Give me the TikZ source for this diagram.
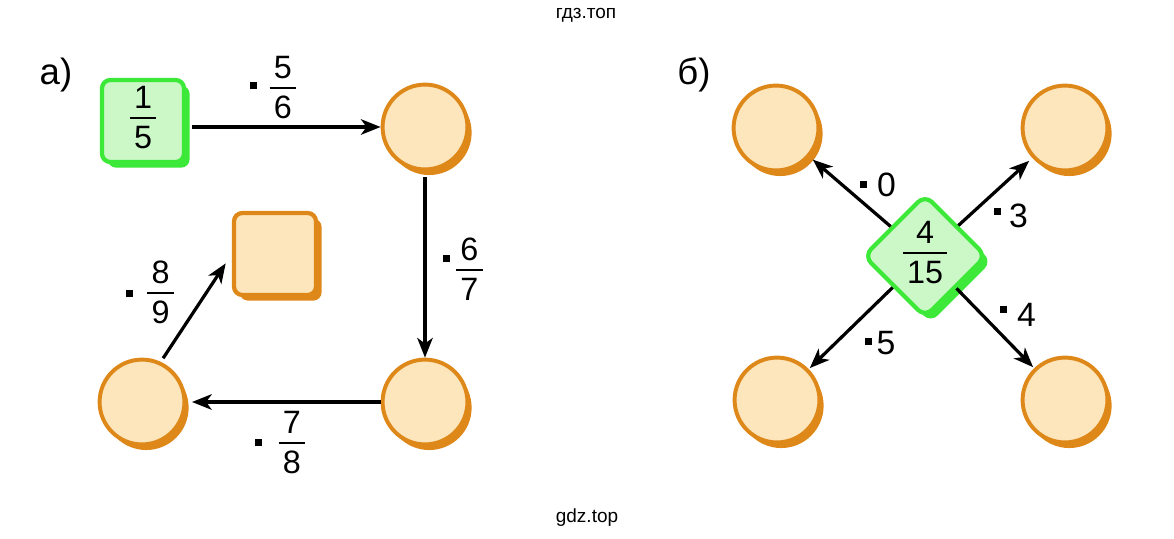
\documentclass[tikz,border=0pt]{standalone}
\usepackage{fontspec}
\setmainfont{Liberation Sans}
\usetikzlibrary{arrows.meta,shapes.geometric,shadows}
\definecolor{peach}{RGB}{253,230,187}
\definecolor{rim}{RGB}{222,136,26}
\definecolor{mint}{RGB}{204,248,200}
\definecolor{lime}{RGB}{60,232,56}
\setlength{\arrayrulewidth}{1.4pt}
\newcommand{\fr}[2]{\begin{tabular}{@{\hspace{3pt}}c@{\hspace{3pt}}}#1\\[-2pt]\hline\rule{0pt}{21pt}#2\end{tabular}}
\newcommand{\dt}[1]{\raisebox{#1}{\rule{5pt}{5pt}}}
\tikzset{
every picture/.style={line width=2.3pt}
}
\tikzset{
  ring/.style={circle, draw=rim, fill=peach, line width=2.8pt, minimum size=2.12cm,
    drop shadow={shadow xshift=3pt, shadow yshift=-4pt, fill=rim, opacity=1}},
  tile/.style={rectangle, rounded corners=6pt, line width=3pt, minimum size=2.05cm, inner sep=0pt},
  greenbox/.style={tile, draw=lime, fill=mint,
    drop shadow={shadow xshift=4pt, shadow yshift=-4pt, fill=lime, opacity=1}},
  orangebox/.style={tile, draw=rim, fill=peach,
    drop shadow={shadow xshift=4pt, shadow yshift=-4pt, fill=rim, opacity=1}},
  gem/.style={diamond, aspect=1, rounded corners=7pt, draw=lime, fill=mint, line width=3pt,
    minimum size=3.0cm, inner sep=0pt,
    drop shadow={shadow xshift=4pt, shadow yshift=-4pt, fill=lime, opacity=1}},
  link/.style={-{Stealth[length=14pt,width=11pt,inset=4pt]}, black},
  num/.style={font=\fontsize{23}{27.6}\selectfont, inner sep=0pt},
  factor/.style={font=\fontsize{24}{28}\selectfont, inner sep=0pt},
  partlabel/.style={font=\fontsize{26}{30}\selectfont, inner sep=0pt},
  stamp/.style={font=\fontsize{13.5}{16}\selectfont, inner sep=0pt}
}
\begin{document}
\begin{tikzpicture}[x=0.025cm, y=-0.025cm]
  \useasboundingbox (0,0) rectangle (1174,538);
  \node[stamp] (wmtop) at (586,15) {гдз.топ};
  \node[stamp] (wmbot) at (587,518) {gdz.top};

  % a)
  \node[partlabel] (parta) at (56,75) {а)};
  \node[greenbox, num] (sq1) at (143,121) {\fr{1}{5}};
  \node[ring] (c1) at (425,127) {};
  \node[ring] (c2) at (425,402) {};
  \node[ring] (c3) at (142,402) {};
  \node[orangebox] (sq2) at (275,254) {};

  \draw[link, shorten <=4pt] (sq1.east |- c1.west) -- (c1.west);
  \draw[link, shorten <=4pt] (c1.south) -- (c2.north);
  \draw[link, shorten >=4pt] (c2.west) -- (c3.east);
  \draw[link, shorten <=3pt, shorten >=8pt] (c3.65) -- (sq2.west);

  \node[num] (ka) at (273,91) {\dt{7.3pt}\hspace{9pt}\fr{5}{6}};
  \node[num] (kb) at (463,273) {\dt{13.7pt}\hspace{4pt}\fr{6}{7}};
  \node[num] (kc) at (280,446) {\dt{6pt}\hspace{12pt}\fr{7}{8}};
  \node[num] (kd) at (150,296) {\dt{5.2pt}\hspace{10pt}\fr{8}{9}};

  % b)
  \node[partlabel] (partb) at (694,75) {б)};
  \node[gem, num] (d) at (925,256) {\fr{4}{15}};
  \node[ring] (tl) at (776,128) {};
  \node[ring] (tr) at (1065,128) {};
  \node[ring] (bl) at (777,400) {};
  \node[ring] (br) at (1065,400) {};

  \draw[link, shorten >=3pt] (d) -- (tl);
  \draw[link, shorten >=3pt] (d) -- (tr);
  \draw[link, shorten >=1pt] (d) -- (bl);
  \draw[link, shorten >=1pt] (d) -- (br);

  \node[factor] (m0) at (878,185) {\dt{6pt}\hspace{7pt}0};
  \node[factor] (m3) at (1011,216) {\dt{9.3pt}\hspace{5.5pt}3};
  \node[factor] (m4) at (1018,315) {\dt{10pt}\hspace{7pt}4};
  \node[factor] (m5) at (880,343) {\dt{6.6pt}\hspace{3.5pt}5};
\end{tikzpicture}
\end{document}
